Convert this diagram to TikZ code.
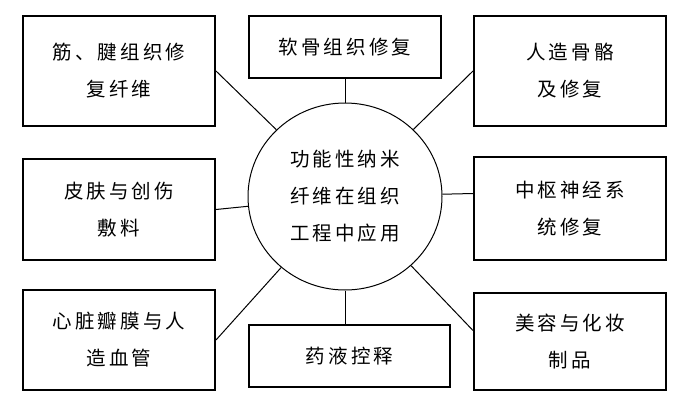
\documentclass[tikz,border=0pt]{standalone}
\usepackage{fontspec}
\newfontfamily\cjk[LetterSpace=16]{Noto Sans CJK SC}
\usetikzlibrary{shapes.geometric}
\begin{document}
\begin{tikzpicture}[x=1pt,y=-1pt,
  txt/.style={font=\cjk\fontsize{19.5}{37}\selectfont, align=center, inner sep=0pt},
  box/.style={txt, draw, line width=2pt, minimum width=192pt},
  hub/.style={txt, draw, ellipse, line width=1pt, minimum width=194pt, minimum height=187pt},
  link/.style={line width=1pt}]
\useasboundingbox[fill=white] (0,0) rectangle (683,410);
\node[hub] (c) at (345,196.5) {功能性纳米\\纤维在组织\\工程中应用};
\node[box, minimum height=110pt] (b1) at (119,71) {筋、腱组织修\\复纤维};
\node[box, minimum height=62pt] (b2) at (345,47) {软骨组织修复};
\node[box, minimum height=110pt] (b3) at (570,71) {人造骨骼\\及修复};
\node[box, minimum height=101pt] (b4) at (119,209.5) {皮肤与创伤\\敷料};
\node[box, minimum height=103pt] (b5) at (570,208.5) {中枢神经系\\统修复};
\node[box, minimum height=100pt] (b6) at (119,340) {心脏瓣膜与人\\造血管};
\node[box, minimum width=201pt, minimum height=62pt] (b7) at (349.5,356) {药液控释};
\node[box, minimum height=97pt] (b8) at (570,341.5) {美容与化妆\\制品};
\draw[link] (b1.east) -- (c);
\draw[link] (b2.south) -- (c);
\draw[link] (b3.west) -- (c);
\draw[link] (b4.east) -- (c);
\draw[link] ([yshift=15pt]b5.west) -- (c);
\draw[link] (b6.east) -- (c);
\draw[link] (c.south) -- (c.south |- b7.north);
\draw[link] ([yshift=11pt]b8.west) -- (c);
\end{tikzpicture}
\end{document}
